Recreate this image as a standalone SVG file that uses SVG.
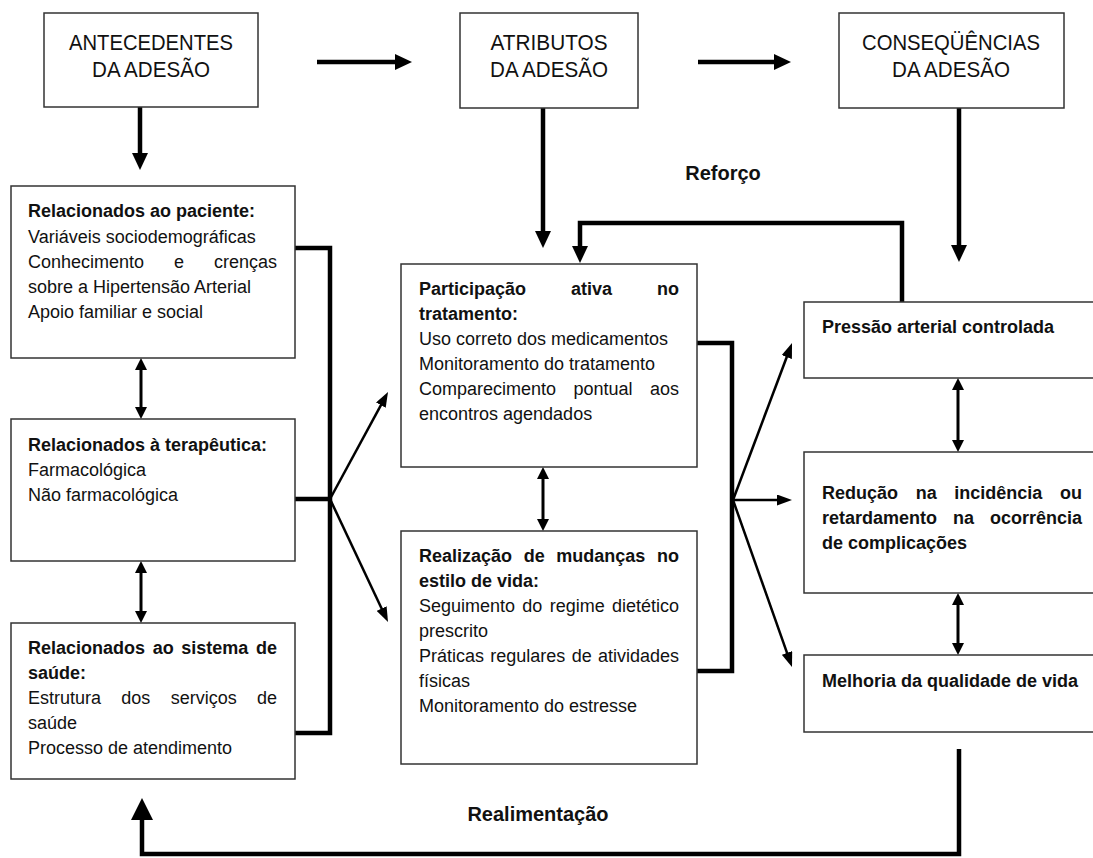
<svg xmlns="http://www.w3.org/2000/svg" width="1093" height="858" viewBox="0 0 1093 858">
<style>
.box{fill:#fff;stroke:#333;stroke-width:1.5}
.t{font-family:"Liberation Sans",Arial,sans-serif;font-size:18px;fill:#111}
.b{font-weight:bold}
.h{font-size:22px;text-anchor:middle}
.lbl{font-family:"Liberation Sans",Arial,sans-serif;font-size:20px;font-weight:bold;fill:#111;text-anchor:middle}
.thick{fill:none;stroke:#000;stroke-width:4.5;marker-end:url(#ah)}
.bus{fill:none;stroke:#000;stroke-width:4.5}
.fan{fill:none;stroke:#000;stroke-width:2.5;marker-end:url(#as)}
.dbl{fill:none;stroke:#000;stroke-width:3;marker-start:url(#ad);marker-end:url(#ad)}
</style>
<defs>
<marker id="ah" markerUnits="userSpaceOnUse" markerWidth="17" markerHeight="16" refX="4" refY="8" orient="auto"><path d="M0,0 L17,8 L0,16 z" fill="#000"/></marker>
<marker id="ahb" markerUnits="userSpaceOnUse" markerWidth="22" markerHeight="22" refX="6" refY="11" orient="auto"><path d="M0,0 L22,11 L0,22 z" fill="#000"/></marker>
<marker id="as" markerUnits="userSpaceOnUse" markerWidth="15" markerHeight="11" refX="3" refY="5.5" orient="auto"><path d="M0,0 L15,5.5 L0,11 z" fill="#000"/></marker>
<marker id="ad" markerUnits="userSpaceOnUse" markerWidth="12" markerHeight="12" refX="2" refY="6" orient="auto-start-reverse"><path d="M0,0 L12,6 L0,12 z" fill="#000"/></marker>
</defs>
<rect width="1093" height="858" fill="#fff"/>

<g id="connectors">
<path class="thick" d="M140,107 V157"/>
<path class="thick" d="M317,62 H399"/>
<path class="thick" d="M698,62 H778"/>
<path class="thick" d="M543,108 V235"/>
<path class="thick" d="M959,108 V249"/>
<path class="thick" d="M902,302 V223 H580 V250"/>
<path class="thick" style="marker-end:url(#ahb)" d="M959,749 V854 H142 V814"/>
<path class="bus" d="M295,248 H330 V733 H295 M295,499 H330"/>
<path class="bus" d="M697,343 H732 V671 H697"/>
<path class="fan" d="M330,499 L382.3,402.6"/>
<path class="fan" d="M330,499 L382.9,611.2"/>
<path class="fan" d="M733,500 L787.8,354.3"/>
<path class="fan" d="M733,500 L780,500"/>
<path class="fan" d="M733,500 L788,655.7"/>
<path class="dbl" d="M141,368 V409"/>
<path class="dbl" d="M141,571 V613"/>
<path class="dbl" d="M543,477 V521"/>
<path class="dbl" d="M958,388 V442"/>
<path class="dbl" d="M958,603 V645"/>
<text class="lbl" x="723" y="180">Reforço</text>
<text class="lbl" x="538" y="821">Realimentação</text>
</g>

<g id="n-antecedentes">
<rect class="box" x="44" y="13" width="214" height="94"/>
<text class="t h" x="151" y="50" textLength="164" lengthAdjust="spacingAndGlyphs">ANTECEDENTES</text>
<text class="t h" x="151" y="77" textLength="118" lengthAdjust="spacingAndGlyphs">DA ADESÃO</text>
</g>
<g id="n-atributos">
<rect class="box" x="460" y="13" width="178" height="95"/>
<text class="t h" x="549" y="50" textLength="117" lengthAdjust="spacingAndGlyphs">ATRIBUTOS</text>
<text class="t h" x="549" y="77" textLength="118" lengthAdjust="spacingAndGlyphs">DA ADESÃO</text>
</g>
<g id="n-consequencias">
<rect class="box" x="839" y="13" width="225" height="95"/>
<text class="t h" x="951" y="50" textLength="178" lengthAdjust="spacingAndGlyphs">CONSEQÜÊNCIAS</text>
<text class="t h" x="951" y="77" textLength="118" lengthAdjust="spacingAndGlyphs">DA ADESÃO</text>
</g>

<g id="n-paciente">
<rect class="box" x="11" y="186" width="284" height="172"/>
<text class="t b" x="28" y="217">Relacionados ao paciente:</text>
<text class="t" x="28" y="243">Variáveis sociodemográficas</text>
<text class="t" y="268"><tspan x="28">Conhecimento</tspan><tspan x="174">e</tspan><tspan x="214">crenças</tspan></text>
<text class="t" x="28" y="293">sobre a Hipertensão Arterial</text>
<text class="t" x="28" y="318">Apoio familiar e social</text>
</g>
<g id="n-terapeutica">
<rect class="box" x="11" y="419" width="284" height="142"/>
<text class="t b" x="28" y="451">Relacionados à terapêutica:</text>
<text class="t" x="28" y="476">Farmacológica</text>
<text class="t" x="28" y="501">Não farmacológica</text>
</g>
<g id="n-sistema">
<rect class="box" x="11" y="623" width="284" height="156"/>
<text class="t b" y="654"><tspan x="28">Relacionados</tspan><tspan x="152.7">ao</tspan><tspan x="181.3">sistema</tspan><tspan x="256">de</tspan></text>
<text class="t b" x="28" y="679">saúde:</text>
<text class="t" y="704"><tspan x="28">Estrutura</tspan><tspan x="121.3">dos</tspan><tspan x="170.7">serviços</tspan><tspan x="257">de</tspan></text>
<text class="t" x="28" y="729">saúde</text>
<text class="t" x="28" y="754">Processo de atendimento</text>
</g>

<g id="n-participacao">
<rect class="box" x="401" y="264" width="296" height="203"/>
<text class="t b" y="295"><tspan x="419">Participação</tspan><tspan x="571">ativa</tspan><tspan x="657">no</tspan></text>
<text class="t b" x="419" y="320">tratamento:</text>
<text class="t" x="419" y="345">Uso correto dos medicamentos</text>
<text class="t" x="419" y="370">Monitoramento do tratamento</text>
<text class="t" y="395"><tspan x="419">Comparecimento</tspan><tspan x="573.5">pontual</tspan><tspan x="650">aos</tspan></text>
<text class="t" x="419" y="420">encontros agendados</text>
</g>
<g id="n-realizacao">
<rect class="box" x="401" y="531" width="296" height="233"/>
<text class="t b" y="562"><tspan x="419">Realização</tspan><tspan x="523.7">de</tspan><tspan x="556.3">mudanças</tspan><tspan x="657">no</tspan></text>
<text class="t b" x="419" y="587">estilo de vida:</text>
<text class="t" y="612"><tspan x="419">Seguimento</tspan><tspan x="522.3">do</tspan><tspan x="549.7">regime</tspan><tspan x="612">dietético</tspan></text>
<text class="t" x="419" y="637">prescrito</text>
<text class="t" y="662"><tspan x="419">Práticas</tspan><tspan x="490.3">regulares</tspan><tspan x="571.7">de</tspan><tspan x="598">atividades</tspan></text>
<text class="t" x="419" y="687">físicas</text>
<text class="t" x="419" y="712">Monitoramento do estresse</text>
</g>

<g id="n-pressao">
<rect class="box" x="804" y="302" width="300" height="76"/>
<text class="t b" x="822" y="333">Pressão arterial controlada</text>
</g>
<g id="n-reducao">
<rect class="box" x="804" y="452" width="300" height="141"/>
<text class="t b" y="499"><tspan x="822">Redução</tspan><tspan x="915.7">na</tspan><tspan x="954.3">incidência</tspan><tspan x="1060">ou</tspan></text>
<text class="t b" y="524"><tspan x="822">retardamento</tspan><tspan x="953">na</tspan><tspan x="990">ocorrência</tspan></text>
<text class="t b" x="822" y="549">de complicações</text>
</g>
<g id="n-melhoria">
<rect class="box" x="804" y="655" width="300" height="77"/>
<text class="t b" x="822" y="687">Melhoria da qualidade de vida</text>
</g>
</svg>
